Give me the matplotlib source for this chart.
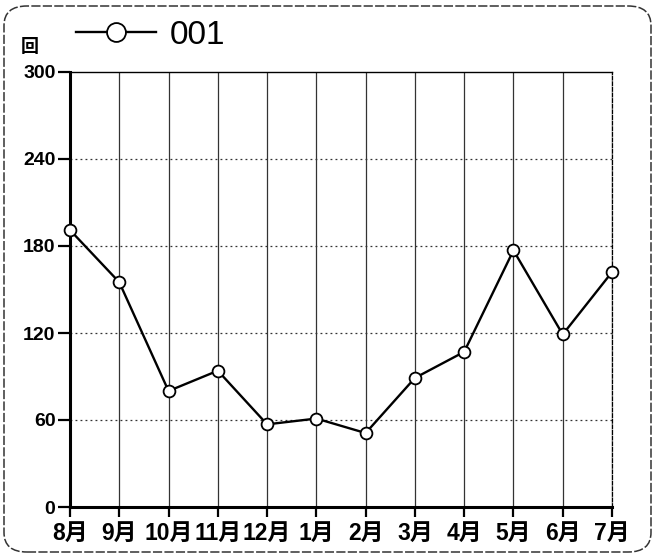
import matplotlib
matplotlib.use("Agg")
import matplotlib.pyplot as plt
from matplotlib.patches import FancyBboxPatch

plt.rcParams['font.family'] = ['Liberation Sans Narrow', 'Liberation Sans', 'Noto Sans CJK JP', 'DejaVu Sans']

months = ['8月', '9月', '10月', '11月', '12月', '1月', '2月', '3月', '4月', '5月', '6月', '7月']
values = [191, 155, 80, 94, 57, 61, 51, 89, 107, 177, 119, 162]
yticks = [0, 60, 120, 180, 240, 300]
series_name = '001'
unit_label = '回'

fig = plt.figure(figsize=(6.55, 5.56), dpi=100)
ax = fig.add_axes([70/655, 1-507/556, (612-70)/655, (507-72)/556])

x = list(range(len(months)))
ax.plot(x, values, color='black', linewidth=1.7, marker='o', markersize=8.5,
        markerfacecolor='white', markeredgecolor='black', markeredgewidth=1.3,
        label=series_name, zorder=5, clip_on=False)

ax.set_xlim(0, len(months) - 1)
ax.set_ylim(0, 300)
ax.set_xticks(x)
ax.set_xticklabels(months, fontsize=16.5, fontweight='bold')
ax.set_yticks(yticks)
ax.set_yticklabels([str(v) for v in yticks], fontsize=14, fontweight='bold')

for xi in x[1:]:
    ax.axvline(xi, color='#333333', linewidth=0.9, zorder=1)
for yv in yticks[1:-1]:
    ax.axhline(yv, color='#333333', linewidth=0.9, linestyle=(0, (1.5, 2.5)), zorder=1)

ax.spines['left'].set_linewidth(2.2)
ax.spines['bottom'].set_linewidth(2.2)
ax.spines['top'].set_linewidth(1.0)
ax.spines['right'].set_linewidth(0.9)
ax.spines['right'].set_linestyle((0, (3, 1.5)))
ax.tick_params(axis='y', direction='out', length=8.5, width=1.6, pad=2)
ax.tick_params(axis='x', direction='out', length=7, width=1.6, pad=4)

leg = ax.legend(loc='center left', bbox_to_anchor=(76/655, 1-35/556), bbox_transform=fig.transFigure,
                frameon=False, fontsize=24, handlelength=2.4, handletextpad=0.4,
                markerscale=1.6, borderpad=0, borderaxespad=0)

fig.text(30/655, 1-47/556, unit_label, fontsize=13, fontweight='bold', ha='center', va='center',
         family=['Noto Sans CJK JP', 'DejaVu Sans'])

frame = FancyBboxPatch((4/655, 4/556), 647/655, 546/556,
                       boxstyle='round,pad=0,rounding_size=0.035',
                       transform=fig.transFigure, facecolor='none',
                       edgecolor='#333333', linewidth=1.1, linestyle=(0, (6, 1.5)))
fig.add_artist(frame)

fig.savefig('out.png', dpi=100)
